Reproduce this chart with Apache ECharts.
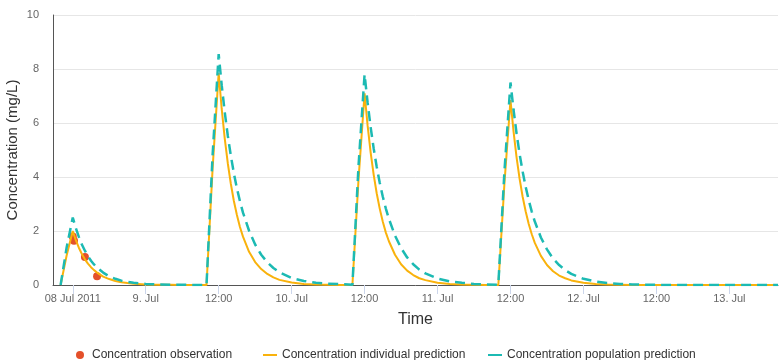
<!DOCTYPE html>
<html>
<head>
<meta charset="utf-8">
<script src="https://cdn.jsdelivr.net/npm/echarts@6/dist/echarts.min.js"></script>
<style>
html,body{margin:0;padding:0;background:#fff;}
#chart{width:780px;height:360px;}
</style>
</head>
<body>
<div id="chart"></div>
<script>
// Hours since 08 Jul 2011 00:00
var hours = [10,11,12,12.5,13,13.5,14,14.5,15,15.5,16,17,18,19,20,21,22,24,26,28,30,32,34,
  35,36,36.5,37,37.5,38,38.5,39,39.5,40,41,42,43,44,45,46,48,50,52,54,56,58,
  59,60,60.5,61,61.5,62,62.5,63,63.5,64,65,66,67,68,69,70,72,74,76,78,80,82,
  83,84,84.5,85,85.5,86,86.5,87,87.5,88,89,90,91,92,93,94,96,98,100,102,104,110,120,128];

var individualPrediction = [
  0,1.1,2.0,1.66,1.38,1.15,0.95,0.79,0.66,0.55,0.46,0.31,0.22,0.15,0.10,0.07,0.05,0.02,0.01,0.01,0,0,0,
  4.3,7.85,6.52,5.42,4.51,3.75,3.11,2.59,2.15,1.79,1.23,0.85,0.59,0.41,0.28,0.19,0.09,0.04,0.02,0.01,0,0,
  3.9,7.1,5.90,4.90,4.08,3.39,2.82,2.34,1.94,1.62,1.12,0.77,0.53,0.37,0.25,0.18,0.08,0.04,0.02,0.01,0,0,
  3.75,6.85,5.69,4.73,3.93,3.27,2.72,2.26,1.88,1.56,1.08,0.74,0.51,0.35,0.25,0.17,0.08,0.04,0.02,0.01,0,0,0,0];

var populationPrediction = [
  0,1.4,2.5,2.11,1.78,1.50,1.27,1.07,0.90,0.76,0.64,0.46,0.32,0.23,0.16,0.12,0.08,0.04,0.02,0.01,0.01,0,0,
  4.8,8.55,7.40,6.40,5.53,4.79,4.14,3.58,3.10,2.68,2.01,1.50,1.12,0.84,0.63,0.47,0.26,0.15,0.08,0.05,0.03,0.01,
  4.4,7.8,6.75,5.84,5.05,4.37,3.78,3.27,2.83,2.45,1.83,1.37,1.02,0.77,0.57,0.43,0.24,0.13,0.08,0.04,0.02,0.01,
  4.2,7.5,6.49,5.61,4.85,4.20,3.63,3.14,2.72,2.35,1.76,1.32,0.98,0.74,0.55,0.41,0.23,0.13,0.07,0.04,0.02,0,0,0];

var obsHours = [12, 12.2, 14, 16];
var obsValues = [1.8, 1.64, 1.04, 0.32];

var tickHours = [12,24,36,48,60,72,84,96,108,120];
var tickLabels = ['08 Jul 2011','9. Jul','12:00','10. Jul','12:00','11. Jul','12:00','12. Jul','12:00','13. Jul'];

var seriesNames = ['Concentration observation','Concentration individual prediction','Concentration population prediction'];
var colors = ['#e4502a','#f9b20c','#1cbab3'];

function pairs(xs, ys){ var out=[]; for(var i=0;i<xs.length;i++){ out.push([xs[i], ys[i]]); } return out; }

var chart = echarts.init(document.getElementById('chart'), null, {renderer:'canvas'});
var FONT = "'Liberation Sans', Arial, sans-serif";
var legendText = {color:'#333', fontSize:12, fontFamily:FONT};
chart.setOption({
  animation:false,
  textStyle:{fontFamily:FONT},
  grid:{left:53,right:2,top:15,bottom:75, containLabel:false, outerBoundsMode:'none'},
  xAxis:{
    type:'value', min:8.75, max:128,
    name:'Time', nameLocation:'middle', nameGap:27, nameMoveOverlap:false,
    nameTextStyle:{color:'#333', fontSize:16, fontFamily:FONT},
    axisLine:{show:true, lineStyle:{color:'#555', width:1}},
    axisTick:{show:true, customValues:tickHours, length:9, lineStyle:{color:'#ccd6eb'}},
    axisLabel:{customValues:tickHours, color:'#666', fontSize:11, margin:8, fontFamily:FONT,
      formatter:function(v){ var i = tickHours.indexOf(v); return i>=0 ? tickLabels[i] : ''; }},
    splitLine:{show:false}
  },
  yAxis:{
    type:'value', min:0, max:10, interval:2,
    name:'Concentration (mg/L)', nameLocation:'middle', nameGap:33, nameRotate:90, nameMoveOverlap:false,
    nameTextStyle:{color:'#333', fontSize:15, fontFamily:FONT},
    axisLine:{show:true, lineStyle:{color:'#555', width:1}},
    axisTick:{show:false},
    axisLabel:{color:'#666', fontSize:11, margin:14, fontFamily:FONT},
    splitLine:{show:true, lineStyle:{color:'#e6e6e6'}}
  },
  legend:[
    {left:71, top:344, itemWidth:14, itemHeight:8, textStyle:legendText,
     data:[{name:seriesNames[0], icon:'circle', itemStyle:{color:colors[0], opacity:1}}]},
    {left:258, top:344, itemWidth:14, itemHeight:2, textStyle:legendText,
     data:[{name:seriesNames[1], icon:'rect', itemStyle:{color:colors[1]}}]},
    {left:483, top:344, itemWidth:14, itemHeight:2, textStyle:legendText,
     data:[{name:seriesNames[2], icon:'rect', itemStyle:{color:colors[2]}}]}
  ],
  series:[
    {name:seriesNames[0], type:'scatter', data:pairs(obsHours, obsValues), symbol:'circle', symbolSize:8,
     itemStyle:{color:colors[0], opacity:1}, z:2},
    {name:seriesNames[1], type:'line', data:pairs(hours, individualPrediction), showSymbol:false, symbol:'none',
     lineStyle:{color:colors[1], width:2}, itemStyle:{color:colors[1]}, z:3},
    {name:seriesNames[2], type:'line', data:pairs(hours, populationPrediction), showSymbol:false, symbol:'none',
     lineStyle:{color:colors[2], width:2.5, type:[10,6]}, itemStyle:{color:colors[2]}, z:4}
  ]
});
</script>
</body>
</html>
